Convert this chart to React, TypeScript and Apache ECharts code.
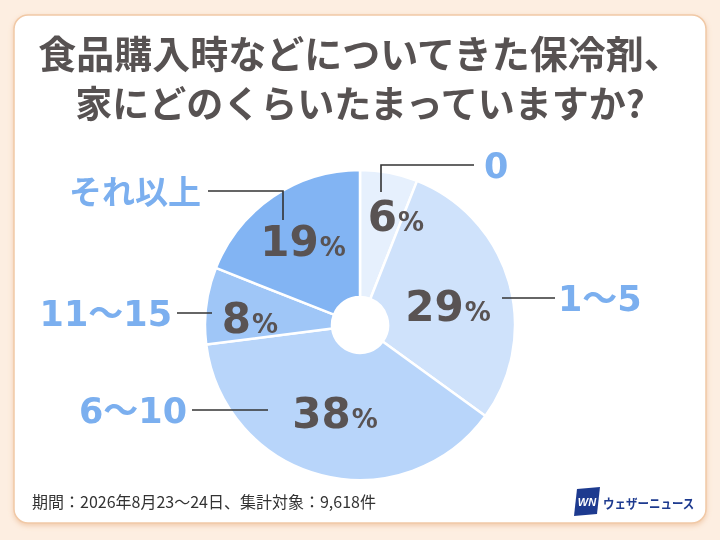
import React, { useEffect, useRef } from 'react';
import * as echarts from 'echarts';

// ---- data ----
const categories = ['0', '1～5', '6～10', '11～15', 'それ以上'];
const shares = [6, 29, 38, 8, 19];
const sliceColors = ['#e6f0fd', '#cfe2fb', '#b8d5fa', '#9fc6f7', '#82b4f3'];
const titleLines = ['食品購入時などについてきた保冷剤、', '家にどのくらいたまっていますか?'];
const footnote = '期間：2026年8月23～24日、集計対象：9,618件';
const brand = 'ウェザーニュース';

// ---- layout (annotation placement) ----
const CX = 360;
const CY = 325;
const nameLabelLayout: any[] = [
  { x: 484, y: 166, align: 'left', line: [[381, 192], [381, 165], [474, 165]] },
  { x: 558, y: 299, align: 'left', line: [[502, 298], [530, 298], [555, 298]] },
  { x: 187, y: 411, align: 'right', line: [[268, 410], [230, 410], [192, 410]] },
  { x: 172, y: 314, align: 'right', line: [[212, 313], [195, 313], [177, 313]] },
  { x: 201, y: 192, align: 'right', line: [[283, 220], [283, 191], [208, 191]] },
];
const pctLabelLayout = [[396, 216], [448, 306], [335, 413], [250, 318], [303, 241]];

const NUM_FONT = "'DejaVu Sans', 'Noto Sans CJK JP', sans-serif";
const JP_FONT = "'Noto Sans CJK JP', sans-serif";

export default function App() {
  const ref = useRef<HTMLDivElement>(null);
  useEffect(() => {
    document.body.style.margin = '0';
    const chart = echarts.init(ref.current!, null, { renderer: 'svg' });
    const data = categories.map((name, i) => ({
      name,
      value: shares[i],
      itemStyle: { color: sliceColors[i] },
    }));
    const option: any = {
      animation: false,
      graphic: [
        { type: 'rect', shape: { x: 0, y: 0, width: 720, height: 540 }, style: { fill: '#fdeee1' }, z: -10 },
        {
          type: 'rect',
          shape: { x: 14, y: 15, width: 692, height: 508, r: 14 },
          style: {
            fill: '#ffffff',
            stroke: '#f1c9a6',
            lineWidth: 1.5,
            shadowColor: 'rgba(225,160,110,0.45)',
            shadowBlur: 5,
            shadowOffsetY: 2,
          },
          z: -9,
        },
        ...titleLines.map((t, i) => ({
          type: 'text',
          x: 360,
          y: 51 + i * 51,
          style: {
            text: t,
            fill: '#575252',
            font: `bold ${i === 0 ? 38 : 37}px ${JP_FONT}`,
            textAlign: 'center',
            textVerticalAlign: 'middle',
          },
        })),
        {
          type: 'text',
          x: 32,
          y: 501,
          style: {
            text: footnote,
            fill: '#333333',
            font: `16px ${JP_FONT}`,
            textAlign: 'left',
            textVerticalAlign: 'middle',
          },
        },
        {
          type: 'polygon',
          shape: { points: [[577, 489], [600, 487], [597, 514], [574, 516]] },
          style: { fill: '#1d3a8f' },
        },
        {
          type: 'text',
          x: 587,
          y: 502,
          style: {
            text: 'WN',
            fill: '#ffffff',
            font: `italic bold 11px 'Liberation Sans', sans-serif`,
            textAlign: 'center',
            textVerticalAlign: 'middle',
          },
        },
        {
          type: 'text',
          x: 603,
          y: 502,
          scaleY: 1.1,
          style: {
            text: brand,
            fill: '#1d3a8f',
            font: `bold 11.5px ${JP_FONT}`,
            textAlign: 'left',
            textVerticalAlign: 'middle',
          },
        },
      ],
      series: [
        {
          type: 'pie',
          z: 2,
          center: [CX, CY],
          radius: [28, 155],
          startAngle: 90,
          clockwise: true,
          itemStyle: { borderColor: '#ffffff', borderWidth: 2.5 },
          emphasis: { disabled: true },
          data,
          label: {
            show: true,
            position: 'inside',
            formatter: (p: any) => `{n|${p.value}}{p|%}`,
            rich: {
              n: { fontFamily: NUM_FONT, fontWeight: 'bold', fontSize: 42, color: '#595353' },
              p: { fontFamily: NUM_FONT, fontWeight: 'bold', fontSize: 26, color: '#595353', padding: [12, 0, 0, 1] },
            },
          },
          labelLine: { show: false },
          labelLayout: (params: any) => {
            const P = pctLabelLayout[params.dataIndex];
            return { x: P[0], y: P[1], align: 'center', verticalAlign: 'middle' };
          },
        },
        {
          type: 'pie',
          z: 5,
          center: [CX, CY],
          radius: [28, 155],
          startAngle: 90,
          clockwise: true,
          silent: true,
          itemStyle: { color: 'transparent', borderWidth: 0 },
          emphasis: { disabled: true },
          data: categories.map((name, i) => ({ name, value: shares[i] })),
          label: {
            show: true,
            position: 'outside',
            formatter: '{b}',
            color: '#7bafef',
            fontFamily: NUM_FONT,
            fontWeight: 'bold',
            fontSize: 35,
          },
          labelLine: {
            show: true,
            length: 10,
            length2: 10,
            minTurnAngle: 0,
            maxSurfaceAngle: 180,
            lineStyle: { color: '#333333', width: 1.6 },
          },
          labelLayout: (params: any) => {
            const L = nameLabelLayout[params.dataIndex];
            const out: any = {
              x: L.x,
              y: L.y,
              align: L.align,
              verticalAlign: 'middle',
              labelLinePoints: L.line,
            };
            if (params.dataIndex === 4) out.fontSize = 33;
            return out;
          },
        },
      ],
    };
    chart.setOption(option);
    return () => chart.dispose();
  }, []);
  return <div ref={ref} style={{ position: 'fixed', left: 0, top: 0, width: 720, height: 540 }} />;
}
